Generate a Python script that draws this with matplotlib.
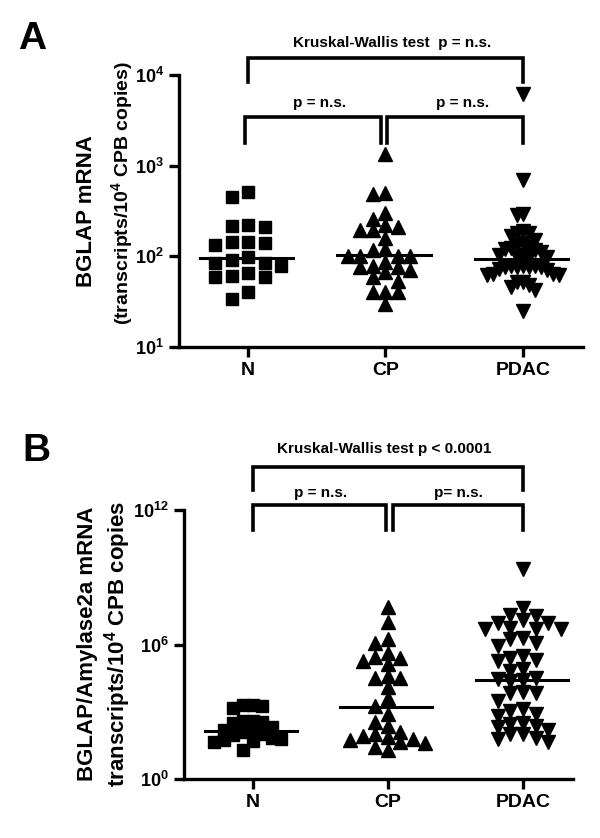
import numpy as np
import matplotlib
matplotlib.use("Agg")
import matplotlib.pyplot as plt
from matplotlib.ticker import FixedLocator, NullLocator

plt.rcParams['font.family'] = ['Liberation Sans', 'DejaVu Sans']
plt.rcParams['font.weight'] = 'bold'
plt.rcParams['mathtext.fontset'] = 'custom'
plt.rcParams['mathtext.rm'] = 'Liberation Sans:bold'
plt.rcParams['mathtext.bf'] = 'Liberation Sans:bold'
plt.rcParams['mathtext.it'] = 'Liberation Sans:bold'

groups = ["N", "CP", "PDAC"]
markers = ["s", "^", "v"]

# panel A: BGLAP mRNA (transcripts / 10^4 CPB copies)
a_n = [507, 450, 222, 217, 208, 144, 143, 141, 133, 99, 90, 84, 84, 79, 66, 59, 59, 61, 40, 34]
a_cp = [1350, 500, 485, 297, 261, 220, 208, 197, 194, 160, 119, 117, 100, 100, 100, 100,
        87, 79, 77, 77, 70, 67, 59, 54, 40, 40, 40, 30]
a_pdac = [6100, 690, 292, 284, 190, 182, 182, 166, 150, 141, 132, 127, 125, 119, 116, 112,
          103, 103, 98, 98, 98, 79, 79, 79, 77, 77, 76, 76, 73, 70, 64, 64, 62, 62,
          52, 52, 48, 46, 42, 25]
a_medians = [95, 103, 94]

# panel B: BGLAP/Amylase2a mRNA
b_n = [2000, 1400, 1800, 2000, 400, 400, 320, 350, 200, 160, 140, 125, 100, 90, 70, 56, 50,
       63, 45, 20]
b_cp = [4.6e7, 1.0e7, 1.7e6, 1.2e6, 4.3e5, 2.4e5, 1.3e5, 1.8e5, 2.8e5, 3.9e4, 3.1e4, 3.3e4,
        1.3e4, 4.0e3, 1.8e3, 830, 350, 230, 100, 130, 85, 54, 76, 60, 46, 39, 28, 19]
b_pdac = [2.4e9, 4.3e7, 2.0e7, 1.2e7, 9.1e6, 9.1e6, 1.8e7, 4.7e6, 4.7e6, 5.5e6, 4.7e6,
          1.7e6, 1.2e6, 1.9e6, 8.5e5, 2.6e5, 1.9e5, 2.1e5, 3.0e5, 7.8e4, 6.5e4, 3.3e4,
          2.8e4, 2.3e4, 2.5e4, 7.1e3, 7.1e3, 7.9e3, 3.0e3, 830, 1.3e3, 650, 1.1e3, 330,
          200, 280, 150, 230, 100, 71, 43, 60, 107]
b_medians = [140, 1550, 25700]

a_ticks = [1e1, 1e2, 1e3, 1e4]
a_ticklabels = [r'$\mathbf{10^{1}}$', r'$\mathbf{10^{2}}$', r'$\mathbf{10^{3}}$', r'$\mathbf{10^{4}}$']
b_ticks = [1e0, 1e6, 1e12]
b_ticklabels = [r'$\mathbf{10^{0}}$', r'$\mathbf{10^{6}}$', r'$\mathbf{10^{12}}$']


def swarm_once(ys, w, h):
    order = np.argsort(-ys)
    step = w / 2.0
    placed = []
    offs = np.zeros(len(ys))
    cands = [0.0]
    for k in range(1, 30):
        cands += [-k * step, k * step]
    for i in order:
        for c in cands:
            ok = True
            for (px, py) in placed:
                if abs(py - ys[i]) < h and abs(px - c) < w - 1e-6:
                    ok = False
                    break
            if ok:
                break
        placed.append((c, ys[i]))
        offs[i] = c
    return offs


def swarm(values, px_decade, unit_px, h=10.0, spread=38.0):
    # column-scatter offsets, squeezed when the column gets too wide
    ys = np.log10(np.array(values, dtype=float)) * px_decade
    for w in np.arange(16.5, 4.0, -0.5):
        offs = swarm_once(ys, w, h)
        if np.abs(offs).max() <= spread:
            break
    return offs / unit_px


def panel(ax, data, medians, ticks, ticklabels, ylim, xlim, px_decade, unit_px):
    for i, vals in enumerate(data):
        x = i + swarm(vals, px_decade, unit_px)
        ax.plot(x, vals, linestyle='none', marker=markers[i], color='black',
                markersize=8 if markers[i] == 's' else 9.5, clip_on=False)
        ax.plot([i - 0.35, i + 0.33], [medians[i], medians[i]], color='black', lw=2.2)
    ax.set_yscale('log')
    ax.set_ylim(ylim)
    ax.set_xlim(xlim)
    ax.yaxis.set_major_locator(FixedLocator(ticks))
    ax.yaxis.set_minor_locator(NullLocator())
    ax.set_yticklabels(ticklabels, fontsize=13)
    ax.set_xticks(range(3))
    ax.set_xticklabels(groups, fontsize=14, fontweight='bold')
    for s in ['top', 'right']:
        ax.spines[s].set_visible(False)
    for s in ['left', 'bottom']:
        ax.spines[s].set_linewidth(2.4)
    ax.tick_params(axis='both', width=2.4, length=7, pad=4)


def bracket(ax, x0, x1, ytop, ybot, lw=2.6):
    tr = ax.get_xaxis_transform()
    ax.plot([x0, x0, x1, x1], [ybot, ytop, ytop, ybot], color='black', lw=lw,
            transform=tr, clip_on=False, solid_joinstyle='miter')


def label(fig, x, y, s, size):
    fig.text(x / 600.0, 1 - y / 838.0, s, rotation=90, ha='center', va='center',
             fontsize=size, fontweight='bold')


fig = plt.figure(figsize=(6, 8.38), dpi=100)

axA = fig.add_axes([0.299, 0.586, 0.673, 0.3245])
panel(axA, [a_n, a_cp, a_pdac], a_medians, a_ticks, a_ticklabels, (1e1, 1e4),
      (-0.50, 2.44), 90.7, 137.5)
bracket(axA, 0, 2, 1.0625, 0.974)
bracket(axA, -0.02, 0.965, 0.846, 0.75)
bracket(axA, 1.01, 2.0, 0.846, 0.75)
trA = axA.get_xaxis_transform()
axA.text(1.05, 1.118, "Kruskal-Wallis test  p = n.s.", transform=trA, ha='center',
         va='center', fontsize=11, fontweight='bold')
axA.text(0.52, 0.897, "p = n.s.", transform=trA, ha='center', va='center', fontsize=11,
         fontweight='bold')
axA.text(1.56, 0.897, "p = n.s.", transform=trA, ha='center', va='center', fontsize=11,
         fontweight='bold')
label(fig, 87, 211, "BGLAP mRNA", 16)
label(fig, 122, 193, "(transcripts/10$^{\\mathbf{4}}$ CPB copies)", 14)

axB = fig.add_axes([0.306, 0.0704, 0.649, 0.321])
panel(axB, [b_n, b_cp, b_pdac], b_medians, b_ticks, b_ticklabels, (1e0, 1e12),
      (-0.51, 2.37), 22.4, 134.5)
bracket(axB, 0, 2, 1.16, 1.074)
bracket(axB, 0, 0.99, 1.019, 0.926)
bracket(axB, 1.04, 2.0, 1.019, 0.926)
trB = axB.get_xaxis_transform()
axB.text(0.97, 1.227, "Kruskal-Wallis test p < 0.0001", transform=trB, ha='center',
         va='center', fontsize=11, fontweight='bold')
axB.text(0.50, 1.063, "p = n.s.", transform=trB, ha='center', va='center', fontsize=11,
         fontweight='bold')
axB.text(1.52, 1.063, "p= n.s.", transform=trB, ha='center', va='center', fontsize=11,
         fontweight='bold')
label(fig, 88, 644, "BGLAP/Amylase2a mRNA", 16)
label(fig, 118, 644, "transcripts/10$^{\\mathbf{4}}$ CPB copies", 16)

fig.text(32 / 600.0, 1 - 39 / 838.0, "A", fontsize=28, fontweight='bold', ha='center',
         va='center')
fig.text(36 / 600.0, 1 - 451 / 838.0, "B", fontsize=28, fontweight='bold', ha='center',
         va='center')

fig.savefig("out.png", dpi=100)
